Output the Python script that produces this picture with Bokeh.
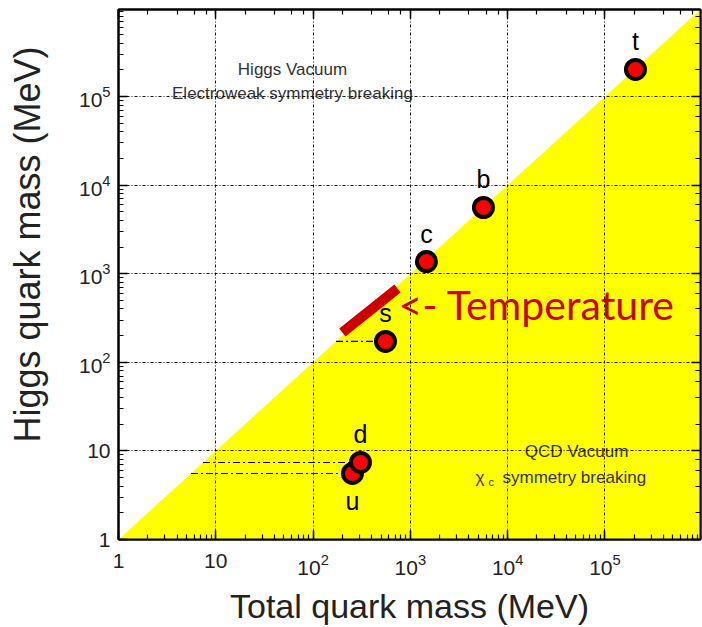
from bokeh.plotting import figure
from bokeh.models import (Range1d, LogAxis, LogTicker, LogTickFormatter,
                          CustomJSTickFormatter, ColumnDataSource)
from bokeh.core.properties import value
from bokeh.embed import file_html
from bokeh.resources import INLINE

# ---- data ----
quarks = ["u", "d", "s", "c", "b", "t"]
total_mass = [254, 307, 555, 1463, 5640, 2.06e5]       # MeV (x)
higgs_mass = [5.56, 7.4, 172, 1373, 5590, 2.02e5]      # MeV (y)
label_dir = [1, -1, -1, -1, -1, -1]                    # +1 below, -1 above

guide_quarks = ["u", "d", "s"]                         # dashed guide lines

temp_total = [200, 737]
temp_higgs = [217, 681]

AX_MIN = 1
AX_MAX = 9.6e5

FONT = "Liberation Sans"
RED = "#cc0000"

p = figure(width=702, height=627, x_axis_type="log", y_axis_type="log",
           x_range=Range1d(AX_MIN, AX_MAX), y_range=Range1d(AX_MIN, AX_MAX),
           output_backend="svg", toolbar_location=None,
           min_border_left=118, min_border_right=2, min_border_top=9, min_border_bottom=88)
p.background_fill_color = "white"
p.border_fill_color = "white"
p.outline_line_color = "black"
p.outline_line_width = 2

# yellow region: higgs mass below total mass
p.varea(x=[AX_MIN, AX_MAX], y1=[AX_MIN, AX_MIN], y2=[AX_MIN, AX_MAX],
        fill_color="#ffff00", level="underlay")

# grids
for g in (p.xgrid, p.ygrid):
    g.grid_line_color = "black"
    g.grid_line_dash = "3 2 1 2"
    g.grid_line_width = 1
    g.grid_line_alpha = 0.9
    g.level = "glyph"

def style_axis(ax, labels=True):
    ax.axis_line_color = "black"
    ax.axis_line_width = 2
    ax.major_tick_in = 9
    ax.major_tick_out = 0
    ax.minor_tick_in = 5
    ax.minor_tick_out = 0
    ax.major_tick_line_color = "black"
    ax.minor_tick_line_color = "black"
    ax.major_tick_line_width = 1.5
    ax.minor_tick_line_width = 1.2
    if labels:
        ax.major_label_text_font = FONT
        ax.major_label_text_font_size = "21px"
        ax.major_label_text_color = "#222222"
        ax.axis_label_text_font = FONT
        ax.axis_label_text_font_style = "normal"
        ax.axis_label_text_color = "#222222"
    else:
        ax.formatter = CustomJSTickFormatter(code="return ''")
        ax.major_label_text_font_size = "1px"
        ax.major_label_standoff = 0

for ax in (p.xaxis[0], p.yaxis[0]):
    style_axis(ax)
    ax.formatter = LogTickFormatter(min_exponent=1)
    ax.major_label_overrides = {10: "10"}

p.xaxis[0].axis_label = "Total quark mass (MeV)"
p.xaxis[0].axis_label_text_font_size = "34px"
p.xaxis[0].major_label_standoff = 14
p.xaxis[0].axis_label_standoff = 9

# y title: leading no-break spaces lift the visible text above the frame centre
p.yaxis[0].axis_label = "\u00a0" * 6 + "Higgs quark mass (MeV)"
p.yaxis[0].axis_label_text_font_size = "36px"
p.yaxis[0].major_label_standoff = 8
p.yaxis[0].axis_label_standoff = 28

top = LogAxis(ticker=LogTicker())
right = LogAxis(ticker=LogTicker())
style_axis(top, labels=False)
style_axis(right, labels=False)
p.add_layout(top, "above")
p.add_layout(right, "right")

# dashed guide lines from the diagonal to the quark points
gx0, gx1, gy = [], [], []
for q, xt, yh in zip(quarks, total_mass, higgs_mass):
    if q in guide_quarks:
        gx0.append(yh)
        gx1.append(xt)
        gy.append(yh)
p.segment(x0=gx0, y0=gy, x1=gx1, y1=gy, line_color="black", line_width=1.2,
          line_dash="7 3 2 3")

# temperature bar
p.line(x=temp_total, y=temp_higgs, line_color=RED, line_width=10, line_cap="butt")

# quark points
src = ColumnDataSource(dict(x=total_mass, y=higgs_mass, name=quarks,
                            off=[28 * d for d in label_dir]))
p.scatter(x="x", y="y", source=src, size=19, fill_color="#ff0000",
          line_color="black", line_width=4)
p.text(x="x", y="y", text="name", source=src, y_offset="off",
       text_align="center", text_baseline="middle",
       text_font=value(FONT), text_font_size="25px", text_color="black")

# annotations
p.text(x=[temp_total[1]], y=[temp_higgs[1]], text=["<- Temperature"],
       x_offset=1, y_offset=16, text_align="left", text_baseline="middle",
       text_font=value("Lato"), text_font_size="41px", text_color=RED)

p.text(x=[61.4, 61.4], y=[2.0e5, 1.08e5],
       text=["Higgs Vacuum", "Electroweak symmetry breaking"],
       text_align="center", text_baseline="alphabetic",
       text_font=value(FONT), text_font_size="17px", text_color="#333333")

p.text(x=[5.1e4], y=[9.8], text=["QCD Vacuum"],
       text_align="center", text_baseline="alphabetic",
       text_font=value(FONT), text_font_size="17px", text_color="#333333")
p.text(x=[4.67e3], y=[5.0], text=["χ"],
       text_align="left", text_baseline="alphabetic",
       text_font=value(FONT), text_font_size="17px", text_color="#333333")
p.text(x=[6.35e3], y=[5.0], text=["c"], y_offset=4,
       text_align="left", text_baseline="alphabetic",
       text_font=value(FONT), text_font_size="11px", text_color="#333333")
p.text(x=[8.85e3], y=[5.0], text=["symmetry breaking"],
       text_align="left", text_baseline="alphabetic",
       text_font=value(FONT), text_font_size="17px", text_color="#333333")

open("out.html", "w").write(file_html(p, INLINE))
